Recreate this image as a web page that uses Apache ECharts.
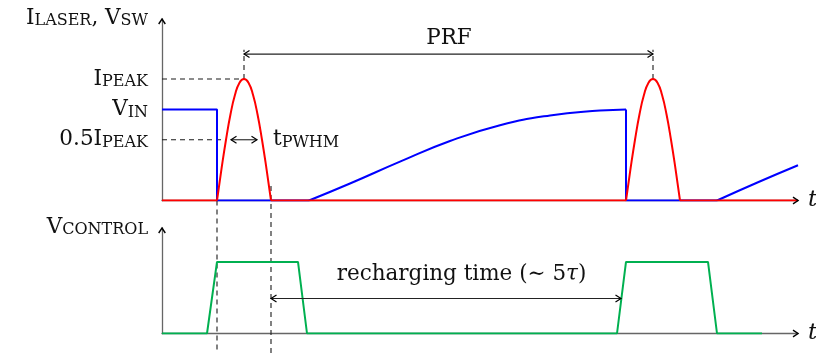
<!DOCTYPE html>
<html><head><meta charset="utf-8">
<script src="https://cdn.jsdelivr.net/npm/echarts@6/dist/echarts.min.js"></script>
<style>html,body{margin:0;padding:0;background:#fff}#c{width:816px;height:353px}</style>
</head><body><div id="c"></div>
<script>
// ---------- data (time in arbitrary units along t, current/voltage in units of I_PEAK) ----------
const tMax = 636;
const topYMax = 1.494;
const bottomYMax = 1.475;

// I_LASER (red)
const iLaserBaseline = [[0,0],[55,0],[82,null],[109,0],[464,0],[491,null],[518,0],[636,0]];
const iLaserPulse1 = [[55,0],[59.5,0.26],[64,0.5],[68.5,0.71],[73,0.87],[77.5,0.97],[82,1],[86.5,0.97],[91,0.87],[95.5,0.71],[100,0.5],[104.5,0.26],[109,0]];
const iLaserPulse2 = [[464,0],[468.5,0.26],[473,0.5],[477.5,0.71],[482,0.87],[486.5,0.97],[491,1],[495.5,0.97],[500,0.87],[504.5,0.71],[509,0.5],[513.5,0.26],[518,0]];

// V_SW (blue)
const vswSteps = [[0,0.75],[55,0.75],[55,0],[147,0],[300,null],[464,0.75],[464,0],[555,0]];
const vswRecharge1 = [[147,0],[188,0.14],[238,0.32],[288,0.49],[338,0.62],[388,0.70],[438,0.74],[464,0.75]];
const vswRecharge2 = [[555,0],[596,0.15],[636,0.29]];

// V_CONTROL (green)
const vControl = [[0,0],[45,0],[55,1],[136,1],[145,0],[455,0],[464,1],[546,1],[555,0],[600,0]];

// tick labels on the top y axis
const topTickValues = [0.5, 0.75, 1];
const topTickLabels = ['{m|0.5I}{s|PEAK}', '{m|V}{s|IN}', '{m|I}{s|PEAK}'];
const topAxisName = '{m|I}{s|LASER}{m|, V}{s|SW}';
const bottomAxisName = '{m|V}{s|CONTROL}';

// guides: [x1, y1, x2, y2]
const dashedGuides = [[0,1,82,1],[0,0.5,64,0.5],[82,1,82,1.24],[491,1,491,1.24],[55,0,55,-1.26],[109,0.12,109,-1.26]];
const arrowsTop = [[82,1.205,491,1.205],[69,0.5,95,0.5]];
const arrowsBottom = [[109,0.49,459,0.49]];

// axis arrow tips: [x, y, direction]  (0 = right, 1 = up)
const axisTipsTop = [[tMax,0,0],[0,topYMax,1]];
const axisTipsBottom = [[tMax,0,0],[0,bottomYMax,1]];

// annotations
const topNotePos = [[287,1.337],[111,0.5]];
const topNoteText = ['{m|PRF}', '{m|t}{s|PWHM}'];
const bottomNotePos = [[299.5,0.82]];
const bottomNoteText = ['{m|recharging time (∼ 5}{i|τ}{m|)}'];

// ---------- styling ----------
const FONT = 'DejaVu Serif';
const TXT = '#111';
const MAIN = 21.5, SUB = 16;
const RICH = {
  m: {fontFamily: FONT, fontSize: MAIN, color: TXT, verticalAlign: 'bottom'},
  s: {fontFamily: FONT, fontSize: SUB, color: TXT, verticalAlign: 'bottom'}
};
const ZR_RICH = {
  m: {fontFamily: FONT, fontSize: MAIN, fill: TXT, verticalAlign: 'bottom'},
  s: {fontFamily: FONT, fontSize: SUB, fill: TXT, verticalAlign: 'bottom'},
  i: {fontFamily: FONT, fontSize: MAIN, fontStyle: 'italic', fill: TXT, verticalAlign: 'bottom'}
};
const AXIS_COLOR = '#666';

function xAxisCfg(gi) {
  return {
    gridIndex: gi, type: 'value', min: 0, max: tMax,
    axisLine: {show: true, onZero: false, lineStyle: {color: AXIS_COLOR, width: 1.3}},
    axisTick: {show: false}, axisLabel: {show: false}, splitLine: {show: false},
    name: 't', nameLocation: 'end', nameGap: 10,
    nameTextStyle: {fontFamily: FONT, fontStyle: 'italic', fontSize: 23, color: TXT, verticalAlign: 'middle'}
  };
}
function yAxisCfg(gi, max, name, withLabels) {
  return {
    gridIndex: gi, type: 'value', min: 0, max: max,
    axisLine: {show: true, onZero: false, lineStyle: {color: AXIS_COLOR, width: 1.3}},
    axisTick: {show: false}, splitLine: {show: false},
    axisLabel: withLabels ? {
      show: true, customValues: topTickValues, margin: 14, rich: RICH,
      formatter: function (v) { const i = topTickValues.indexOf(v); return i >= 0 ? topTickLabels[i] : ''; }
    } : {show: false},
    name: name, nameLocation: 'end', nameGap: 1,
    nameTextStyle: {align: 'right', verticalAlign: 'middle', padding: [0, 14, 0, 0], rich: RICH}
  };
}

function dashedItem(params, api) {
  const a = api.coord([api.value(0), api.value(1)]);
  const b = api.coord([api.value(2), api.value(3)]);
  return {type: 'line', shape: {x1: a[0], y1: a[1], x2: b[0], y2: b[1]},
    style: {stroke: '#1a1a1a', lineWidth: 1.1, lineDash: [5, 4]}};
}
function chevron(tip, ux, uy, len, half, lw) {
  // ux,uy: unit vector pointing in arrow direction
  const px = -uy, py = ux;
  const bx = tip[0] - ux * len, by = tip[1] - uy * len;
  return {type: 'polyline', shape: {points: [[bx + px * half, by + py * half], [tip[0], tip[1]], [bx - px * half, by - py * half]], smooth: 0},
    style: {stroke: '#000', fill: null, lineWidth: lw, lineJoin: 'miter'}};
}
function arrowItem(params, api) {
  const a = api.coord([api.value(0), api.value(1)]);
  const b = api.coord([api.value(2), api.value(3)]);
  return {type: 'group', children: [
    {type: 'line', shape: {x1: a[0], y1: a[1], x2: b[0], y2: b[1]}, style: {stroke: '#222', lineWidth: 1.1}},
    chevron(a, -1, 0, 5.5, 3.5, 1.2), chevron(b, 1, 0, 5.5, 3.5, 1.2)
  ]};
}
function axisTipItem(params, api) {
  const p = api.coord([api.value(0), api.value(1)]);
  const up = api.value(2) === 1;
  return up ? chevron(p, 0, -1, 5, 3.3, 1.4) : chevron(p, 1, 0, 5, 3.3, 1.4);
}
function noteRenderer(texts, aligns) {
  return function (params, api) {
    const p = api.coord([api.value(0), api.value(1)]);
    return {type: 'text', x: p[0], y: p[1],
      style: {text: texts[params.dataIndex], align: aligns[params.dataIndex], verticalAlign: 'middle', rich: ZR_RICH, fill: TXT, fontFamily: FONT, fontSize: MAIN}};
  };
}

function lineSeries(data, color, gi, smooth, z) {
  return {type: 'line', xAxisIndex: gi, yAxisIndex: gi, data: data, showSymbol: false, symbol: 'none',
    smooth: smooth, connectNulls: false, lineStyle: {color: color, width: 2}, z: z, silent: true, animation: false};
}

const chart = echarts.init(document.getElementById('c'), null, {renderer: 'canvas'});
chart.setOption({
  animation: false,
  backgroundColor: '#fff',
  grid: [
    {left: 162, right: 18, top: 19, bottom: 152.5, containLabel: false, outerBoundsMode: 'none'},
    {left: 162, right: 18, top: 228, bottom: 19.5, containLabel: false, outerBoundsMode: 'none'}
  ],
  xAxis: [xAxisCfg(0), xAxisCfg(1)],
  yAxis: [yAxisCfg(0, topYMax, topAxisName, true), yAxisCfg(1, bottomYMax, bottomAxisName, false)],
  series: [
    {type: 'custom', xAxisIndex: 0, yAxisIndex: 0, data: dashedGuides, renderItem: dashedItem, clip: false, z: 1, silent: true},
    lineSeries(vswSteps, '#0000ff', 0, false, 3),
    lineSeries(vswRecharge1, '#0000ff', 0, true, 3),
    lineSeries(vswRecharge2, '#0000ff', 0, true, 3),
    lineSeries(iLaserBaseline, '#ff0000', 0, false, 4),
    lineSeries(iLaserPulse1, '#ff0000', 0, true, 4),
    lineSeries(iLaserPulse2, '#ff0000', 0, true, 4),
    lineSeries(vControl, '#00b050', 1, false, 3),
    {type: 'custom', xAxisIndex: 0, yAxisIndex: 0, data: axisTipsTop, renderItem: axisTipItem, clip: false, z: 5, silent: true},
    {type: 'custom', xAxisIndex: 1, yAxisIndex: 1, data: axisTipsBottom, renderItem: axisTipItem, clip: false, z: 5, silent: true},
    {type: 'custom', xAxisIndex: 0, yAxisIndex: 0, data: arrowsTop, renderItem: arrowItem, clip: false, z: 5, silent: true},
    {type: 'custom', xAxisIndex: 1, yAxisIndex: 1, data: arrowsBottom, renderItem: arrowItem, clip: false, z: 5, silent: true},
    {type: 'custom', xAxisIndex: 0, yAxisIndex: 0, data: topNotePos, renderItem: noteRenderer(topNoteText, ['center', 'left']), clip: false, z: 6, silent: true},
    {type: 'custom', xAxisIndex: 1, yAxisIndex: 1, data: bottomNotePos, renderItem: noteRenderer(bottomNoteText, ['center']), clip: false, z: 6, silent: true}
  ]
});
</script>
</body></html>
